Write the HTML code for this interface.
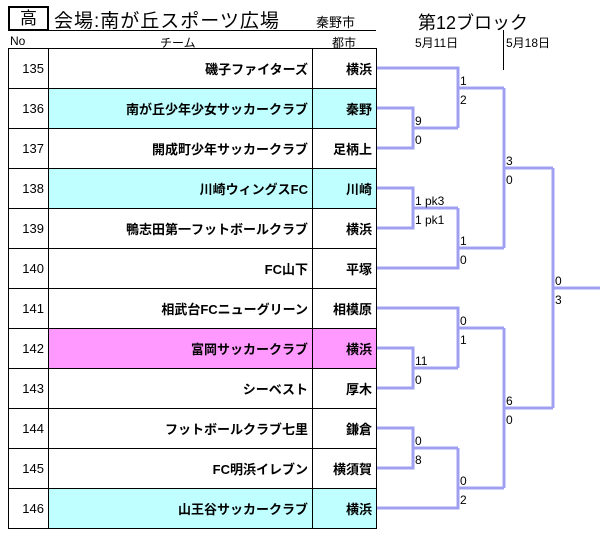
<!DOCTYPE html>
<html><head><meta charset="utf-8"><style>
body{margin:0;width:609px;height:556px;background:#fff;position:relative;overflow:hidden;font-family:"Liberation Sans","Noto Sans CJK JP",sans-serif;}
.a{position:absolute;white-space:nowrap;}
table{position:absolute;left:8px;top:48px;border-collapse:collapse;}
td{border:1px solid #000;height:39px;padding:0 4px;font-size:13px;}
td.n{width:31px;text-align:right;font-size:13px;}
td.t{width:255px;text-align:right;font-weight:bold;}
td.c{width:55px;text-align:right;font-weight:bold;}
.cy{background:#c0ffff}.pk{background:#ff99ff}
svg{position:absolute;left:0;top:0}
</style></head><body>
<div class="a" style="left:8px;top:6px;width:37px;height:21px;border:2px solid #000;font-size:17px;text-align:center;line-height:21px;">高</div>
<div class="a" style="left:54px;top:6px;font-size:19px;letter-spacing:1px;">会場:南が丘スポーツ広場</div>
<div class="a" style="left:316px;top:12px;font-size:13px;">秦野市</div>
<div class="a" style="left:8px;top:30px;width:368px;height:1px;background:#000;"></div>
<div class="a" style="left:418px;top:9px;font-size:18px;">第12ブロック</div>
<div class="a" style="left:10px;top:34px;font-size:12px;">No</div>
<div class="a" style="left:160px;top:34px;font-size:12px;">チーム</div>
<div class="a" style="left:332px;top:34px;font-size:12px;">都市</div>
<div class="a" style="left:415px;top:34px;font-size:12px;">5月11日</div>
<div class="a" style="left:503px;top:30px;width:1px;height:40px;background:#000;"></div>
<div class="a" style="left:506px;top:34px;font-size:12px;">5月18日</div>
<table>
<tr><td class="n">135</td><td class="t">磯子ファイターズ</td><td class="c">横浜</td></tr>
<tr><td class="n">136</td><td class="t cy">南が丘少年少女サッカークラブ</td><td class="c cy">秦野</td></tr>
<tr><td class="n">137</td><td class="t">開成町少年サッカークラブ</td><td class="c">足柄上</td></tr>
<tr><td class="n">138</td><td class="t cy">川崎ウィングスFC</td><td class="c cy">川崎</td></tr>
<tr><td class="n">139</td><td class="t">鴨志田第一フットボールクラブ</td><td class="c">横浜</td></tr>
<tr><td class="n">140</td><td class="t">FC山下</td><td class="c">平塚</td></tr>
<tr><td class="n">141</td><td class="t">相武台FCニューグリーン</td><td class="c">相模原</td></tr>
<tr><td class="n">142</td><td class="t pk">富岡サッカークラブ</td><td class="c pk">横浜</td></tr>
<tr><td class="n">143</td><td class="t">シーベスト</td><td class="c">厚木</td></tr>
<tr><td class="n">144</td><td class="t">フットボールクラブ七里</td><td class="c">鎌倉</td></tr>
<tr><td class="n">145</td><td class="t">FC明浜イレブン</td><td class="c">横須賀</td></tr>
<tr><td class="n">146</td><td class="t cy">山王谷サッカークラブ</td><td class="c cy">横浜</td></tr>
</table>
<svg width="609" height="556"><g fill="none" stroke="#a0a0f0" stroke-width="3">
<path d="M377 108H413V148H377M413 128H458M377 68H458V128M458 88H504"/>
<path d="M377 188H413V228H377M413 208H458M377 268H458V208M458 248H504"/>
<path d="M504 88V248M504 168H553"/>
<path d="M377 348H413V388H377M413 368H458M377 308H458V368M458 328H504"/>
<path d="M377 428H413V468H377M413 448H458M377 508H458V448M458 488H504"/>
<path d="M504 328V488M504 408H553"/>
<path d="M553 168V408M553 288H600"/>
</g>
<g font-size="12" font-family="Liberation Sans,sans-serif" fill="#000">
<text x="415" y="125">9</text><text x="415" y="144">0</text>
<text x="415" y="205">1 pk3</text><text x="415" y="224">1 pk1</text>
<text x="415" y="365">11</text><text x="415" y="384">0</text>
<text x="415" y="445">0</text><text x="415" y="464">8</text>
<text x="460" y="85">1</text><text x="460" y="104">2</text>
<text x="460" y="245">1</text><text x="460" y="264">0</text>
<text x="460" y="325">0</text><text x="460" y="344">1</text>
<text x="460" y="485">0</text><text x="460" y="504">2</text>
<text x="506" y="165">3</text><text x="506" y="184">0</text>
<text x="506" y="405">6</text><text x="506" y="424">0</text>
<text x="555" y="285">0</text><text x="555" y="304">3</text>
</g></svg>
</body></html>
